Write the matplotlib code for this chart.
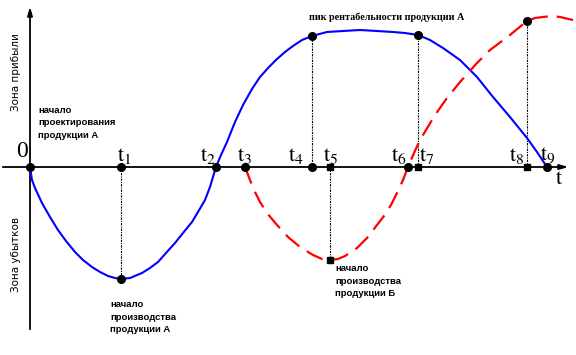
import matplotlib
matplotlib.use('Agg')
import matplotlib.pyplot as plt

plt.rcParams['mathtext.fontset'] = 'stix'

# продукция А (синяя кривая): время, прибыль
blue_t = [0, 2, 5, 12, 20, 28, 36, 45, 53, 62, 70, 78, 85, 91, 100, 112, 120, 128, 136,
          145, 153, 162, 168, 175, 180, 186, 191, 197, 205, 213, 222, 230, 239, 247, 255,
          263, 272, 282, 297, 313, 330, 347, 363, 375, 388, 400, 413, 430, 447, 463, 480,
          497, 507, 517]
blue_p = [0, -13, -21, -36, -50, -63, -74, -85, -93, -100, -105, -109, -111, -112, -111,
          -106, -101, -95, -86, -76, -66, -55, -45, -33, -20, 0, 12, 25, 45, 62, 78, 90,
          100, 108, 115, 121, 127, 131, 135, 136, 137, 136, 135, 134, 132, 127, 119, 107,
          90, 70, 50, 29, 15, 0]

# продукция Б (красная пунктирная)
red_t = [215, 220, 225, 230, 237, 247, 258, 270, 283, 292, 300, 308, 315, 327, 337, 347,
         357, 362, 367, 373, 378, 384, 390, 405, 417, 430, 447, 460, 480, 497, 505, 513,
         522, 530, 543]
red_p = [0, -13, -25, -35, -46, -58, -70, -80, -88, -92, -93, -92, -89, -81, -71, -58,
         -45, -36, -26, -13, 0, 14, 27, 52, 69, 85, 104, 117, 132, 146, 149, 150, 151,
         150, 147]

# точки на оси времени
axis_names = ['t1', 't2', 't3', 't4', 't5', 't6', 't7', 't8', 't9']
round_t = [0, 91, 186, 215, 282, 378, 517]
square_t = [300, 388, 497]
label_x = [94, 178, 215, 266, 301, 369, 397, 487, 518]

# характерные точки на кривых
drop_t = [91, 282, 300, 388, 497]
drop_p = [-112, 131, -93, 132, 146]
drop_marker = ['o', 'o', 's', 'o', 'o']

fig = plt.figure(figsize=(5.76, 3.55), dpi=100)
ax = fig.add_axes([0, 0, 1, 1])
ax.set_xlim(-30, 546)
ax.set_ylim(-188, 167)
ax.axis('off')

# оси
ax.annotate('', xy=(541, 0), xytext=(-30, 0),
            arrowprops=dict(arrowstyle='-|>,head_length=0.5,head_width=0.15', lw=1.3, color='black'))
ax.annotate('', xy=(0, 163), xytext=(0, -165),
            arrowprops=dict(arrowstyle='-|>,head_length=0.5,head_width=0.15', lw=1.3, color='black'))

# пунктирные вертикали
for t, p in zip(drop_t, drop_p):
    ax.plot([t, t], [0, p], color='black', lw=0.8, linestyle=(0, (2, 1, 1, 1)), zorder=2)

ax.plot(blue_t, blue_p, color='#0000ff', lw=1.5, zorder=3)
ax.plot(red_t, red_p, color='#ff0000', lw=1.6, dashes=(8, 4), zorder=3)

ax.plot(round_t, [0] * len(round_t), 'o', color='black', ms=5.5, zorder=4)
ax.plot(square_t, [0] * len(square_t), 's', color='black', ms=5, zorder=4)
for t, p, m in zip(drop_t, drop_p, drop_marker):
    ax.plot(t, p, m, color='black', ms=5.5 if m == 'o' else 5, zorder=4)

# подписи t
for name, x in zip(axis_names, label_x):
    ax.text(x, 1, r'$\mathrm{t}_{%s}$' % name[1:], fontsize=16, ha='center', va='bottom')
ax.text(-8, 15, '0', fontsize=17, family='Liberation Serif', ha='center', va='center')
ax.text(529, -11, r'$\mathrm{t}$', fontsize=16, ha='center', va='center')

# пояснения
small = dict(fontsize=6.8, fontweight='bold', family='Liberation Sans', linespacing=1.55)
ax.text(8, 44, 'начало\nпроектирования\nпродукции А', ha='left', va='center', **small)
ax.text(80, -150, 'начало\nпроизводства\nпродукции А', ha='left', va='center', **small)
ax.text(305, -114, 'начало\nпроизводства\nпродукции Б', ha='left', va='center', **small)
ax.text(357, 150, 'пик рентабельности продукции А', ha='center', va='center',
        fontsize=7.3, fontweight='bold', family='Liberation Serif')

ax.text(-14, 95, 'Зона прибыли', rotation=90, fontsize=7.5, ha='center', va='center')
ax.text(-14, -87, 'Зона убытков', rotation=90, fontsize=7.5, ha='center', va='center')

fig.savefig('out.png', dpi=100)
